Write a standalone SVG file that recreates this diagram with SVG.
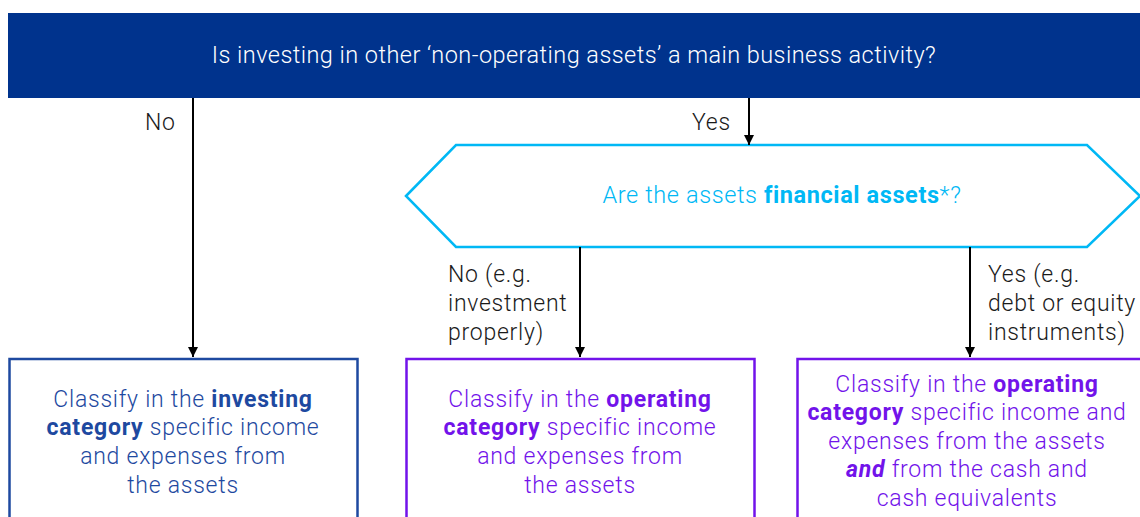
<svg xmlns="http://www.w3.org/2000/svg" width="1140" height="517" viewBox="0 0 1140 517">
<defs>
<marker id="ah" viewBox="0 0 10 10" refX="10" refY="5" markerWidth="10" markerHeight="10" markerUnits="userSpaceOnUse" orient="auto">
<path d="M0,0 L10,5 L0,10 z" fill="#000"/>
</marker>
<style>
text{font-family:Roboto,"Liberation Sans",sans-serif;font-weight:300}
.b{font-weight:700}
.lbl{font-size:23px;fill:#1a1a1a;letter-spacing:0.75px}
.box{fill:#fff;stroke-width:2.5}
.c{font-size:23px;text-anchor:middle;letter-spacing:0.75px}
.conn{stroke:#000;stroke-width:2;fill:none;marker-end:url(#ah)}
</style>
</defs>
<rect width="1140" height="517" fill="#fff"/>
<g id="q1">
<rect x="8" y="13" width="1140" height="85" fill="#00338D"/>
<text x="574" y="63" font-size="23.5" letter-spacing="0.45" fill="#fff" text-anchor="middle">Is investing in other ‘non-operating assets’ a main business activity?</text>
</g>
<g id="q2">
<polygon points="406,196 456,145 1087,145 1140,196 1087,247 456,247" fill="#fff" stroke="#00B8F5" stroke-width="2.5"/>
<text x="782" y="203" font-size="23.5" letter-spacing="0.6" fill="#00B8F5" text-anchor="middle">Are the assets <tspan class="b">financial assets</tspan>*?</text>
</g>
<g id="connectors">
<line class="conn" x1="193" y1="98" x2="193" y2="357"/>
<line class="conn" x1="749" y1="98" x2="749" y2="145"/>
<line class="conn" x1="580" y1="247" x2="580" y2="357"/>
<line class="conn" x1="970" y1="247" x2="970" y2="357"/>
<text class="lbl" x="145" y="130">No</text>
<text class="lbl" x="692" y="130">Yes</text>
<text class="lbl" x="448" y="282">No (e.g.</text>
<text class="lbl" x="448" y="311">investment</text>
<text class="lbl" x="448" y="340">properly)</text>
<text class="lbl" x="988" y="282">Yes (e.g.</text>
<text class="lbl" x="988" y="311">debt or equity</text>
<text class="lbl" x="988" y="340">instruments)</text>
</g>
<g id="r1">
<rect class="box" x="9.5" y="359" width="348" height="170" stroke="#1E49A0"/>
<text class="c" fill="#1E49A0" x="183" y="407">Classify in the <tspan class="b">investing</tspan></text>
<text class="c" fill="#1E49A0" x="183" y="435"><tspan class="b">category</tspan> specific income</text>
<text class="c" fill="#1E49A0" x="183" y="464">and expenses from</text>
<text class="c" fill="#1E49A0" x="183" y="493">the assets</text>
</g>
<g id="r2">
<rect class="box" x="406.5" y="359" width="348" height="170" stroke="#7213EA"/>
<text class="c" fill="#7213EA" x="580" y="407">Classify in the <tspan class="b">operating</tspan></text>
<text class="c" fill="#7213EA" x="580" y="435"><tspan class="b">category</tspan> specific income</text>
<text class="c" fill="#7213EA" x="580" y="464">and expenses from</text>
<text class="c" fill="#7213EA" x="580" y="493">the assets</text>
</g>
<g id="r3">
<rect class="box" x="797.5" y="359" width="360" height="170" stroke="#7213EA"/>
<text class="c" fill="#7213EA" x="967" y="392">Classify in the <tspan class="b">operating</tspan></text>
<text class="c" fill="#7213EA" x="967" y="420"><tspan class="b">category</tspan> specific income and</text>
<text class="c" fill="#7213EA" x="967" y="449">expenses from the assets</text>
<text class="c" fill="#7213EA" x="967" y="477"><tspan class="b" font-style="italic">and</tspan> from the cash and</text>
<text class="c" fill="#7213EA" x="967" y="506">cash equivalents</text>
</g>
</svg>
